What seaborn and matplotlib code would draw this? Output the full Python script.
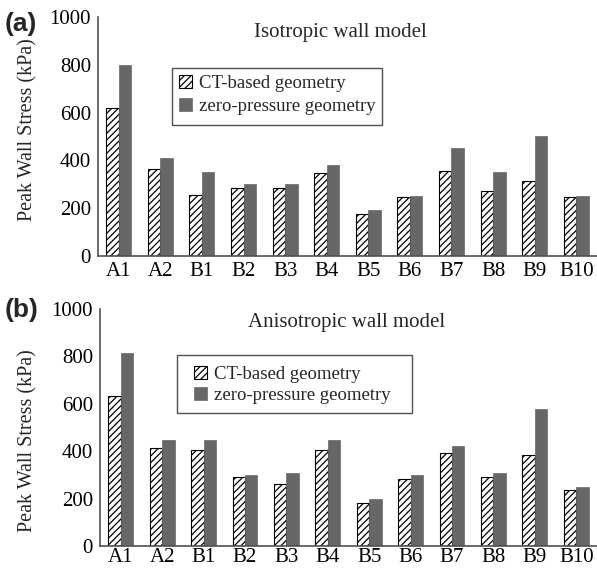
import numpy as np
import pandas as pd
import matplotlib
matplotlib.use("Agg")
import matplotlib.pyplot as plt
from matplotlib.patches import Rectangle
import seaborn as sns

cases = ["A1", "A2", "B1", "B2", "B3", "B4", "B5", "B6", "B7", "B8", "B9", "B10"]
series_names = ["CT-based geometry", "zero-pressure geometry"]

iso_ct = [620, 364, 255, 286, 286, 346, 176, 245, 356, 273, 315, 245]
iso_zp = [800, 411, 351, 302, 302, 382, 192, 252, 452, 351, 502, 252]

aniso_ct = [634, 414, 403, 292, 262, 404, 182, 282, 393, 292, 382, 238]
aniso_zp = [813, 449, 449, 299, 308, 449, 199, 300, 420, 310, 580, 248]

panel_titles = ["Isotropic wall model", "Anisotropic wall model"]
panel_tags = ["(a)", "(b)"]
yticks = [0, 200, 400, 600, 800, 1000]

sns.set_theme(style="white")
plt.rcParams["font.family"] = ["Liberation Serif", "DejaVu Serif"]
plt.rcParams["hatch.linewidth"] = 0.9
plt.rcParams["hatch.color"] = "black"

ZP_COLOR = "#676767"
SPINE_COLOR = "#505050"

W, H = 597, 569
fig = plt.figure(figsize=(W / 100, H / 100), dpi=100)

# per-panel layout, in pixels of the figure (top-left origin)
panels = [
    dict(left=98, top=17, bottom=256, title=(340, 33), ylab=(28, 130),
         frame=(172, 68, 382, 125), legend_at=(179, 75), spacing=0.3,
         tag=(5, 24), xpad=4.5),
    dict(left=100, top=309, bottom=546, title=(347, 322), ylab=(28, 441),
         frame=(177, 355, 412, 413), legend_at=(194, 366), spacing=0.2,
         tag=(5, 310), xpad=1.8),
]


def long_frame(ct, zp):
    return pd.DataFrame({
        "case": cases * 2,
        "stress": list(ct) + list(zp),
        "geometry": [series_names[0]] * len(cases) + [series_names[1]] * len(cases),
    })


for i, (ct, zp) in enumerate([(iso_ct, iso_zp), (aniso_ct, aniso_zp)]):
    L = panels[i]
    rect = [L["left"] / W, 1 - L["bottom"] / H,
            (W - L["left"]) / W, (L["bottom"] - L["top"]) / H]
    ax = fig.add_axes(rect)

    def to_ax(px, py, L=L):
        return ((px - L["left"]) / (W - L["left"]),
                (L["bottom"] - py) / (L["bottom"] - L["top"]))

    df = long_frame(ct, zp)
    sns.barplot(data=df, x="case", y="stress", hue="geometry",
                palette=["white", ZP_COLOR], width=0.6, ax=ax,
                saturation=1, legend=False, errorbar=None)
    ct_bars, zp_bars = ax.containers[0], ax.containers[1]
    for p in ct_bars:
        p.set_hatch("/////")
        p.set_edgecolor("black")
        p.set_linewidth(0.8)
    for p in zp_bars:
        p.set_edgecolor(ZP_COLOR)
        p.set_linewidth(0.5)

    ax.set_ylim(0, 1000)
    ax.set_xlim(-0.5, len(cases) - 0.5)
    ax.set_yticks(yticks)
    ax.set_yticklabels([str(v) for v in yticks], fontsize=15)
    ax.set_xticks(range(len(cases)))
    ax.set_xticklabels(cases, fontsize=15)
    ax.tick_params(axis="both", length=0, colors="black")
    ax.tick_params(axis="y", pad=5)
    ax.tick_params(axis="x", pad=L["xpad"])
    ax.set_xlabel("")
    ax.set_ylabel("Peak Wall Stress (kPa)", fontsize=14.5)
    ax.yaxis.label.set_verticalalignment("center")
    ax.yaxis.set_label_coords(*to_ax(*L["ylab"]))
    for side in ["top", "right"]:
        ax.spines[side].set_visible(False)
    for side in ["left", "bottom"]:
        ax.spines[side].set_color(SPINE_COLOR)
        ax.spines[side].set_linewidth(1.2)

    ax.text(*to_ax(*L["title"]), panel_titles[i], transform=ax.transAxes,
            ha="center", va="center", fontsize=15)

    # legend box
    x0, y0, x1, y1 = L["frame"]
    bx0, by1 = to_ax(x0, y0)
    bx1, by0 = to_ax(x1, y1)
    ax.add_patch(Rectangle((bx0, by0), bx1 - bx0, by1 - by0,
                           transform=ax.transAxes, fill=True,
                           facecolor="white", edgecolor=SPINE_COLOR,
                           linewidth=1.0, zorder=5))
    leg = ax.legend([ct_bars.patches[0], zp_bars.patches[0]], series_names,
                    loc="upper left", bbox_to_anchor=to_ax(*L["legend_at"]),
                    borderaxespad=0, borderpad=0, fontsize=13.5,
                    frameon=False, handlelength=0.7, handleheight=0.7,
                    handletextpad=0.35, labelspacing=L["spacing"])
    leg.set_zorder(6)

    tx, ty = L["tag"]
    fig.text(tx / W, 1 - ty / H, panel_tags[i],
             family="Liberation Sans", fontweight="bold", fontsize=19,
             ha="left", va="center")

fig.savefig("out.png", dpi=100)
